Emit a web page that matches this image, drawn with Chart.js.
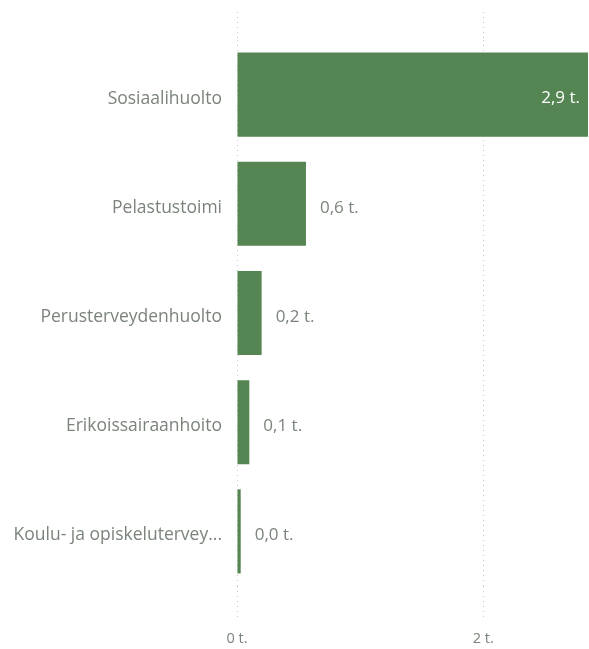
<!DOCTYPE html>
<html>
<head>
<meta charset="utf-8">
<script src="https://cdn.jsdelivr.net/npm/chart.js@4.4.0/dist/chart.umd.min.js"></script>
<style>
html,body{margin:0;padding:0;background:#fff;}
#wrap{width:589px;height:649px;position:relative;}
</style>
</head>
<body>
<div id="wrap"><canvas id="c" width="589" height="649"></canvas></div>
<script>
const categories = ["Sosiaalihuolto", "Pelastustoimi", "Perusterveydenhuolto", "Erikoissairaanhoito", "Koulu- ja opiskelutervey..."];
const values = [2.9, 0.56, 0.2, 0.1, 0.03];
const valueLabels = ["2,9 t.", "0,6 t.", "0,2 t.", "0,1 t.", "0,0 t."];
const xTicks = [0, 2];
const xMax = 2.85;

const FONT = "'Open Sans', 'Noto Sans', sans-serif";
const barColor = '#548552';
const textColor = '#7a847a';

const valueLabelPlugin = {
  id: 'valueLabels',
  afterDatasetsDraw(chart) {
    const ctx = chart.ctx;
    const meta = chart.getDatasetMeta(0);
    const area = chart.chartArea;
    ctx.save();
    ctx.font = '17px ' + FONT;
    ctx.textBaseline = 'middle';
    meta.data.forEach((bar, i) => {
      const txt = valueLabels[i];
      const w = ctx.measureText(txt).width;
      const end = Math.min(bar.x, area.right);
      if (end + 14 + w > area.right) {
        ctx.fillStyle = '#ffffff';
        ctx.textAlign = 'right';
        ctx.fillText(txt, end - 8, bar.y + 4);
      } else {
        ctx.fillStyle = textColor;
        ctx.textAlign = 'left';
        ctx.fillText(txt, end + 14, bar.y + 4);
      }
    });
    ctx.restore();
  }
};

const gridDash = [1, 4];
new Chart(document.getElementById('c'), {
  type: 'bar',
  data: {
    labels: categories,
    datasets: [{
      data: values,
      backgroundColor: barColor,
      borderWidth: 0,
      categoryPercentage: 1,
      barPercentage: 0.77
    }]
  },
  options: {
    indexAxis: 'y',
    responsive: false,
    animation: false,
    layout: { padding: { left: 0, right: 1, top: 0, bottom: 0 } },
    plugins: { legend: { display: false }, tooltip: { enabled: false } },
    scales: {
      y: {
        grid: { display: false, drawTicks: false },
        border: { display: false },
        ticks: { color: textColor, font: { family: FONT, size: 17.5 }, padding: 15, labelOffset: 4 },
        afterFit(s) { s.width = 237; }
      },
      x: {
        type: 'linear',
        position: 'bottom',
        min: 0,
        max: xMax,
        afterBuildTicks(s) { s.ticks = xTicks.map(v => ({ value: v })); },
        ticks: { color: textColor, font: { family: FONT, size: 14.5 }, padding: 10,
                 callback: v => v + ' t.' },
        grid: { color: '#c8c8c8', tickBorderDash: gridDash, tickLength: 34, tickColor: '#c8c8c8' },
        border: { display: false, dash: gridDash },
        afterFit(s) { s.height = 63; }
      },
      x2: {
        type: 'linear',
        axis: 'x',
        position: 'top',
        min: 0,
        max: xMax,
        afterBuildTicks(s) { s.ticks = xTicks.map(v => ({ value: v })); },
        ticks: { display: false },
        grid: { drawOnChartArea: false, color: '#c8c8c8', tickBorderDash: gridDash, tickLength: 28, tickColor: '#c8c8c8' },
        border: { display: false, dash: gridDash },
        afterFit(s) { s.height = 40; }
      }
    }
  },
  plugins: [valueLabelPlugin]
});
</script>
</body>
</html>
